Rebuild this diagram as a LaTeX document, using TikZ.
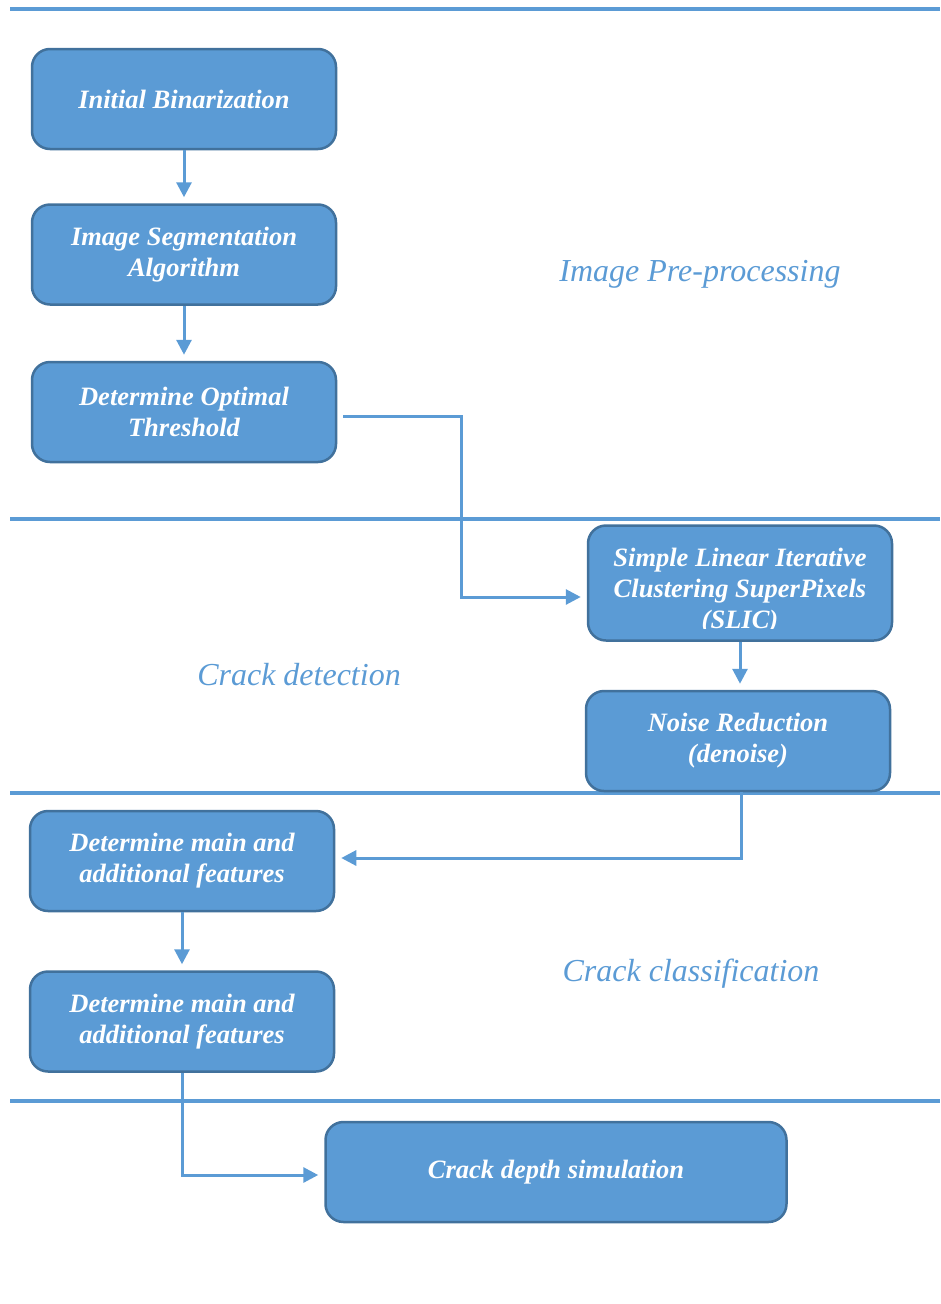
\documentclass[tikz,border=0pt]{standalone}
\usepackage{fontspec}
\setmainfont{Liberation Serif}
\usetikzlibrary{arrows.meta, positioning}
\definecolor{boxblue}{HTML}{5B9BD5}
\definecolor{boxedge}{HTML}{41719C}

\begin{document}
\begin{tikzpicture}[x=1pt,y=-1pt,
    boxtext/.style={align=center, text=white, inner sep=0pt,
        font=\fontsize{26.5}{31}\selectfont\bfseries\itshape},
    box/.style={boxtext, draw=boxedge, line width=2.5pt, fill=boxblue, rounded corners=18pt,
        minimum width=304pt, minimum height=100pt, inner ysep=1pt},
    flow/.style={draw=boxblue, line width=3pt, -{Triangle[width=15pt,length=15pt]},
        shorten >=6pt},
    rule/.style={draw=boxblue, line width=3.5pt},
    phase/.style={text=boxblue, font=\fontsize{32}{36}\selectfont\itshape}]
    \useasboundingbox (0,0) rectangle (940,1304);
    % phase separators
    \foreach \y in {9,519,793,1101}
        \draw[rule] (10,\y) -- (940,\y);
    % image pre-processing
    \node[box] (bin) at (184,99) {Initial Binarization};
    \node[box, below=53pt of bin] (seg) {Image Segmentation\\Algorithm};
    \node[box, below=55pt of seg] (thr) {Determine Optimal\\Threshold};
    \node[phase] (pre) at (700,274) {Image Pre-processing};
    % crack detection
    \node[box, minimum height=115pt] (slic) at (740,583) {};
    \begin{scope}
        \clip (600,530) rectangle (880,628);
        \node[boxtext] (slictext) at (740,591)
            {Simple Linear Iterative\\Clustering SuperPixels\\(SLIC)};
    \end{scope}
    \node[box, below=48pt of slic, xshift=-2pt] (noise) {Noise Reduction\\(denoise)};
    \node[phase] (det) at (299,675) {Crack detection};
    % crack classification
    \node[box] (feat1) at (182,861) {Determine main and\\additional features};
    \node[box, below=58pt of feat1] (feat2) {Determine main and\\additional features};
    \node[phase] (cls) at (691,974) {Crack classification};
    % simulation
    \node[box, minimum width=461pt] (sim) at (556,1172) {Crack depth simulation};
    % connectors
    \coordinate (j1) at (461,597);
    \coordinate (j2) at (741,858);
    \draw[flow] (bin) -- (seg);
    \draw[flow] (seg) -- (thr);
    \draw[flow, shorten <=6pt] ([yshift=-4pt]thr.east) -| (j1) -- (j1 -| slic.west);
    \draw[flow] (slic.south) -- (slic.south |- noise.north);
    \draw[flow] (j2 |- noise.south) -- (j2) -- (j2 -| feat1.east);
    \draw[flow] (feat1) -- (feat2);
    \draw[flow] (feat2.south) |- ([yshift=-3pt]sim.west);
\end{tikzpicture}
\end{document}
